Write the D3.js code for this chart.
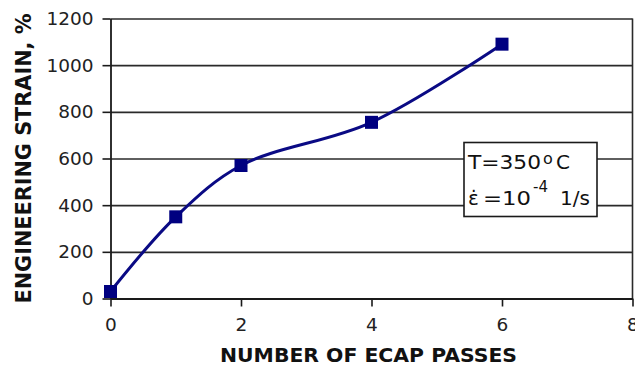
<!DOCTYPE html>
<html>
<head>
<meta charset="utf-8">
<script src="https://cdn.jsdelivr.net/npm/d3@7"></script>
<style>
  body { margin: 0; background: #fff; }
  svg { display: block; }
</style>
</head>
<body>
<div id="chart"></div>
<script>
// data
const passes = [0, 1, 2, 4, 6];
const strain = [30, 350, 570, 755, 1090];
const xTicks = [0, 2, 4, 6, 8];
const yTicks = [0, 200, 400, 600, 800, 1000, 1200];
const xTitle = "NUMBER OF ECAP PASSES";
const yTitle = "ENGINEERING  STRAIN, %";

const W = 635, H = 368;
const margin = {top: 18.5, right: 2.5, bottom: 69.5, left: 110.5};
const width = W - margin.left - margin.right,
    height = H - margin.top - margin.bottom;

const svg = d3.select("#chart").append("svg")
    .attr("width", W)
    .attr("height", H);

const g = svg.append("g")
    .attr("transform", "translate(" + margin.left + "," + margin.top + ")");

const x = d3.scaleLinear().domain([0, 8]).range([0, width]);
const y = d3.scaleLinear().domain([0, 1200]).range([height, 0]);

const ink = "#1a1a1a";
const fmt = d3.format("d");

// horizontal grid lines
g.append("g")
    .call(d3.axisLeft(y).tickValues(yTicks).tickSize(-width).tickFormat(""))
    .call(a => a.select(".domain").remove())
    .selectAll("line")
    .attr("stroke", "#2a2a2a")
    .attr("stroke-width", 1.6);

// right border
g.append("line")
    .attr("x1", width).attr("x2", width)
    .attr("y1", 0).attr("y2", height)
    .attr("stroke", "#2a2a2a")
    .attr("stroke-width", 1.6);

// y axis
const yAxis = g.append("g")
    .call(d3.axisLeft(y).tickValues(yTicks).tickFormat(fmt).tickSize(8).tickPadding(9).tickSizeOuter(0));
yAxis.select(".domain").attr("stroke", ink).attr("stroke-width", 1.8);
yAxis.selectAll("line").attr("stroke", ink).attr("stroke-width", 1.6);
yAxis.selectAll("text")
    .attr("font-family", "DejaVu Sans")
    .attr("font-size", 18.5)
    .attr("fill", "#222");

// x axis
const xAxis = g.append("g")
    .attr("transform", "translate(0," + height + ")")
    .call(d3.axisBottom(x).tickValues(xTicks).tickFormat(fmt).tickSize(8).tickPadding(11).tickSizeOuter(0));
xAxis.select(".domain").attr("stroke", ink).attr("stroke-width", 1.8);
xAxis.selectAll("line").attr("stroke", ink).attr("stroke-width", 1.6);
xAxis.selectAll("text")
    .attr("font-family", "DejaVu Sans")
    .attr("font-size", 18.5)
    .attr("fill", "#222");

// smoothed series line
const pts = passes.map((p, i) => [p, strain[i]]);
const line = d3.line()
    .x(d => x(d[0]))
    .y(d => y(d[1]))
    .curve(d3.curveCatmullRom);

g.append("path")
    .datum(pts)
    .attr("fill", "none")
    .attr("stroke", "#0a0a84")
    .attr("stroke-width", 3)
    .attr("d", line);

// square markers
const ms = 13;
g.selectAll("rect.mark")
    .data(pts)
    .join("rect")
    .attr("class", "mark")
    .attr("x", d => x(d[0]) - ms / 2)
    .attr("y", d => y(d[1]) - ms / 2)
    .attr("width", ms)
    .attr("height", ms)
    .attr("fill", "#000080");

// condition box
const box = svg.append("g");
box.append("rect")
    .attr("x", 464).attr("y", 142.5)
    .attr("width", 133).attr("height", 74)
    .attr("fill", "#fff")
    .attr("stroke", ink)
    .attr("stroke-width", 1.6);

const txt = (s, px, py, fs) => box.append("text")
    .attr("x", px).attr("y", py)
    .attr("font-family", "DejaVu Sans")
    .attr("font-size", fs)
    .attr("fill", "#111")
    .text(s);

txt("T=350", 468, 169, 20).attr("textLength", 73).attr("lengthAdjust", "spacingAndGlyphs");
txt("o", 543, 164, 16);
txt("C", 556, 169, 20);
txt("\u03B5\u0307", 468, 205, 20);
txt("=10", 483, 205, 20).attr("textLength", 48).attr("lengthAdjust", "spacingAndGlyphs");
txt("-4", 533, 192, 15);
txt("1/s", 560, 205, 20);

// axis titles
svg.append("text")
    .attr("x", margin.left + width / 2 - 3)
    .attr("y", 362)
    .attr("text-anchor", "middle")
    .attr("font-family", "DejaVu Sans")
    .attr("font-weight", "bold")
    .attr("font-size", 20)
    .attr("fill", "#111")
    .attr("textLength", 297)
    .attr("lengthAdjust", "spacingAndGlyphs")
    .text(xTitle);

svg.append("text")
    .attr("transform", "translate(31," + (margin.top + height / 2) + ") rotate(-90)")
    .attr("text-anchor", "middle")
    .attr("font-family", "DejaVu Sans")
    .attr("font-weight", "bold")
    .attr("font-size", 21)
    .attr("fill", "#111")
    .attr("textLength", 290)
    .attr("lengthAdjust", "spacingAndGlyphs")
    .text(yTitle);
</script>
</body>
</html>
